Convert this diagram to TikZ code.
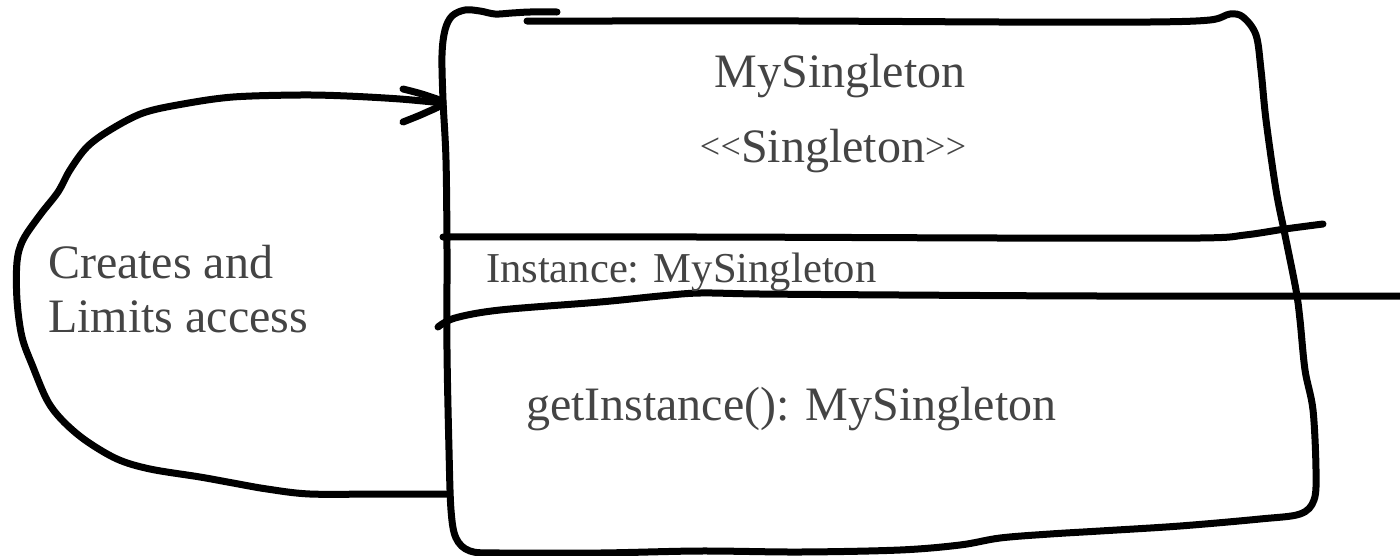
\documentclass[tikz,border=0pt]{standalone}
\usepackage{fontspec}
\setmainfont{Liberation Serif}
\definecolor{ink}{HTML}{444444}
\tikzset{
  sketch/.style={line width=7pt, line cap=round, line join=round, draw=black},
  txt/.style={text=ink, inner sep=0pt, outer sep=0pt},
  big/.style={font=\fontsize{48}{54}\selectfont},
  small/.style={font=\fontsize{42.6}{48}\selectfont},
  hand/.style={smooth, tension=0.55},
}
% small angle brackets, kept apart so they are not joined into guillemets
\newcommand{\angles}[1]{\raisebox{4pt}{\fontsize{36}{36}\selectfont #1\kern0.5pt #1}}
\begin{document}
\begin{tikzpicture}[x=1pt,y=-1pt]
\useasboundingbox (0,0) rectangle (1400,555);

% class box, drawn freehand in one stroke
\draw[sketch] plot[hand] coordinates {
  (557,12) (530,12) (512,13) (495,14) (480,11) (465,10) (452,16) (445,30)
  (442,55) (443,100) (446,160) (447,250) (447,350) (449,450) (451,510)
  (456,538) (470,551) (500,553) (600,553) (700,551) (800,552) (900,550)
  (960,545) (1000,538) (1050,534) (1100,531) (1180,526) (1260,519)
  (1300,514) (1314,500) (1316,470) (1313,410) (1305,370) (1300,320)
  (1296,290) (1285,235) (1276,190) (1266,120) (1261,70) (1256,35)
  (1243,17) (1230,14) (1210,20) (1150,22) (1000,22) (800,21) (600,21) (527,21)};

% compartment dividers
\draw[sketch] plot[hand] coordinates {
  (443,237) (700,237) (1000,238) (1200,238) (1245,235) (1285,229) (1323,224)};
\draw[sketch] plot[hand] coordinates {
  (438,327) (455,318) (500,310) (600,302) (660,296) (700,293) (760,294)
  (900,295) (1100,296) (1400,296)};

% self-association loop
\coordinate (loopstart) at (447,494);
\coordinate (looptip) at (443,103);
\draw[sketch] plot[hand] coordinates {
  (loopstart) (380,494) (310,494) (267,489) (233,483) (200,477) (150,469)
  (117,459) (85,440) (62,420) (47,400) (33,367) (22,337) (17,300) (17,262)
  (23,240) (40,215) (58,192) (70,170) (87,147) (110,130) (143,113)
  (183,104) (233,97) (300,95) (347,96) (400,99) (looptip)};
\draw[sketch] plot[hand] coordinates {(403,89) (425,95) (looptip) (425,113) (403,122)};

% texts
\node[txt,big,anchor=base] (title) at (840,87) {MySingleton};
\node[txt,big,anchor=base] (stereo) at (833,162) {\angles{<}Singleton\angles{>}};
\node[txt,small,anchor=base west] (attr) at (486,282) {Instance: MySingleton};
\node[txt,big,anchor=base west] (op) at (526,420) {getInstance(): MySingleton};
\node[txt,big,anchor=base west] (note1) at (48,278) {Creates and};
\node[txt,big,anchor=base west] (note2) at (48,332) {Limits access};
\end{tikzpicture}
\end{document}
